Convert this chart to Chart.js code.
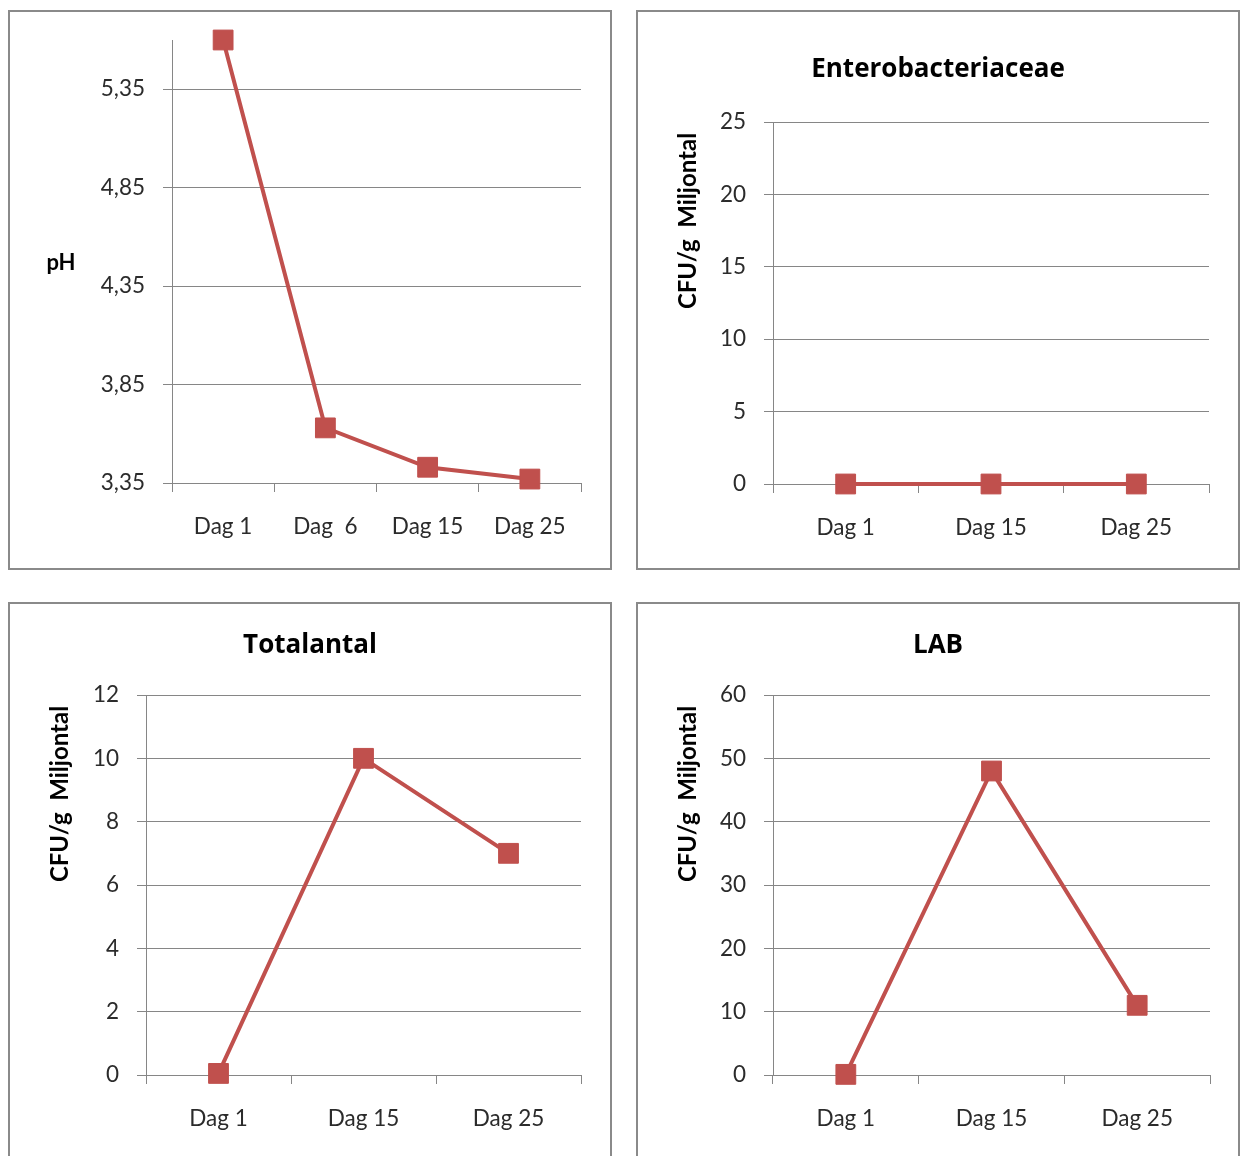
<!DOCTYPE html>
<html>
<head>
<meta charset="utf-8">
<script src="https://cdn.jsdelivr.net/npm/chart.js@4.4.1/dist/chart.umd.min.js"></script>
<style>
  html, body { margin: 0; padding: 0; background: #fff; overflow: hidden; width: 1243px; height: 1156px; }
  .panel { position: absolute; width: 604px; height: 560px; border: 2px solid #8a8a8a; box-sizing: border-box; background: #fff; }
  .panel canvas { position: absolute; left: 0; top: 0; }
</style>
</head>
<body>
<div class="panel" style="left:8px;top:10px"><canvas id="phChart" width="600" height="556"></canvas></div>
<div class="panel" style="left:636px;top:10px"><canvas id="enteroChart" width="600" height="556"></canvas></div>
<div class="panel" style="left:8px;top:602px"><canvas id="totalChart" width="600" height="556"></canvas></div>
<div class="panel" style="left:636px;top:602px"><canvas id="labChart" width="600" height="556"></canvas></div>

<script>
// Sampling days
const phDays = ['Dag 1', 'Dag  6', 'Dag 15', 'Dag 25'];
const countDays = ['Dag 1', 'Dag 15', 'Dag 25'];

// Measured values
const phValues = [5.60, 3.63, 3.43, 3.37];
const enteroValues = [0, 0, 0];
const totalValues = [0.05, 10, 7];
const labValues = [0.1, 48, 11];

// Axis ticks
const phTicks = [3.35, 3.85, 4.35, 4.85, 5.35];
const phTickLabels = ['3,35', '3,85', '4,35', '4,85', '5,35'];
const enteroTicks = [0, 5, 10, 15, 20, 25];
const totalTicks = [0, 2, 4, 6, 8, 10, 12];
const labTicks = [0, 10, 20, 30, 40, 50, 60];

// Titles
const enteroTitle = 'Enterobacteriaceae';
const totalTitle = 'Totalantal';
const labTitle = 'LAB';
const phAxisTitle = 'pH';
const countAxisTitle = 'CFU/g  Miljontal';

const RED = '#C0504D';
const GRID = '#868686';
const TEXT = '#2b2b2b';
const FONT = 'Lato, "Liberation Sans", sans-serif';
const TITLE_FONT = '"Open Sans", Lato, sans-serif';
const W = 600, H = 556;

Chart.defaults.font.family = FONT;
Chart.defaults.color = TEXT;

// Draws the free-standing axis caption (horizontal "pH" or rotated count label)
const axisCaption = {
  id: 'axisCaption',
  afterDraw(chart, args, opts) {
    if (!opts.text) return;
    const ctx = chart.ctx;
    ctx.save();
    ctx.translate(opts.x, opts.y);
    ctx.rotate(opts.rotate || 0);
    ctx.font = opts.font;
    ctx.fillStyle = '#000';
    ctx.textAlign = 'center';
    ctx.textBaseline = 'middle';
    ctx.fillText(opts.text, 0, 0);
    ctx.restore();
  }
};

function lineChart(id, cfg) {
  const side = W - cfg.area.right;          // symmetric side padding keeps the title centred
  const titleSize = 26;
  const titleLH = titleSize * 1.2;
  const hasTitle = !!cfg.title;
  const tickLabels = cfg.tickLabels;

  return new Chart(document.getElementById(id), {
    type: 'line',
    data: {
      labels: cfg.labels,
      datasets: [{
        data: cfg.values,
        borderColor: RED,
        backgroundColor: RED,
        borderWidth: 4,
        pointStyle: 'rect',
        pointRadius: 14,
        pointHoverRadius: 14,
        pointBackgroundColor: RED,
        pointBorderColor: RED,
        pointBorderWidth: 1,
        tension: 0,
        clip: false
      }]
    },
    options: {
      responsive: false,
      animation: false,
      events: [],
      layout: {
        padding: { left: side, right: side, top: hasTitle ? 0 : cfg.area.top, bottom: 0 }
      },
      plugins: {
        legend: { display: false },
        tooltip: { enabled: false },
        title: hasTitle ? {
          display: true,
          text: cfg.title,
          color: '#000',
          font: { family: TITLE_FONT, size: titleSize, weight: 'bold', lineHeight: 1.2 },
          padding: {
            top: cfg.titleY - titleLH / 2,
            bottom: cfg.area.top - cfg.titleY - titleLH / 2
          }
        } : { display: false },
        axisCaption: cfg.caption
      },
      scales: {
        x: {
          type: 'category',
          offset: true,
          grid: {
            offset: true,
            drawOnChartArea: false,
            drawTicks: true,
            tickLength: 9,
            color: GRID,
            lineWidth: 1
          },
          border: { display: true, color: GRID, width: 1 },
          ticks: {
            color: TEXT,
            font: { size: 22.5 },
            padding: 21,
            maxRotation: 0,
            autoSkip: false
          },
          afterFit(s) {
            s.height = H - cfg.area.bottom;
            s.paddingLeft = 0;
            s.paddingRight = 0;
          }
        },
        y: {
          type: 'linear',
          min: cfg.min,
          max: cfg.max,
          grid: {
            drawOnChartArea: true,
            drawTicks: true,
            tickLength: 9,
            color: GRID,
            lineWidth: 1
          },
          border: { display: true, color: GRID, width: 1 },
          ticks: {
            color: TEXT,
            font: { size: 22.5 },
            padding: 18,
            callback(value, index) {
              return tickLabels ? tickLabels[index] : String(value);
            }
          },
          afterBuildTicks(s) {
            s.ticks = cfg.ticks.map(v => ({ value: v }));
          },
          afterFit(s) {
            s.width = cfg.area.left - side;
            s.paddingTop = 0;
            s.paddingBottom = 0;
          }
        }
      }
    },
    plugins: [axisCaption]
  });
}

lineChart('phChart', {
  labels: phDays,
  values: phValues,
  ticks: phTicks,
  tickLabels: phTickLabels,
  min: 3.35,
  max: 5.6,
  area: { left: 162, right: 571, top: 28, bottom: 471 },
  caption: { text: phAxisTitle, x: 51, y: 251, rotate: 0, font: 'bold 22px ' + FONT }
});

lineChart('enteroChart', {
  labels: countDays,
  values: enteroValues,
  ticks: enteroTicks,
  min: 0,
  max: 25,
  title: enteroTitle,
  titleY: 58,
  area: { left: 135, right: 571, top: 110, bottom: 472 },
  caption: { text: countAxisTitle, x: 50, y: 209, rotate: -Math.PI / 2, font: 'bold 24px ' + FONT }
});

lineChart('totalChart', {
  labels: countDays,
  values: totalValues,
  ticks: totalTicks,
  min: 0,
  max: 12,
  title: totalTitle,
  titleY: 42,
  area: { left: 136, right: 571, top: 91, bottom: 471 },
  caption: { text: countAxisTitle, x: 50, y: 190, rotate: -Math.PI / 2, font: 'bold 24px ' + FONT }
});

lineChart('labChart', {
  labels: countDays,
  values: labValues,
  ticks: labTicks,
  min: 0,
  max: 60,
  title: labTitle,
  titleY: 42,
  area: { left: 135, right: 572, top: 91, bottom: 471 },
  caption: { text: countAxisTitle, x: 50, y: 190, rotate: -Math.PI / 2, font: 'bold 24px ' + FONT }
});
</script>
</body>
</html>
